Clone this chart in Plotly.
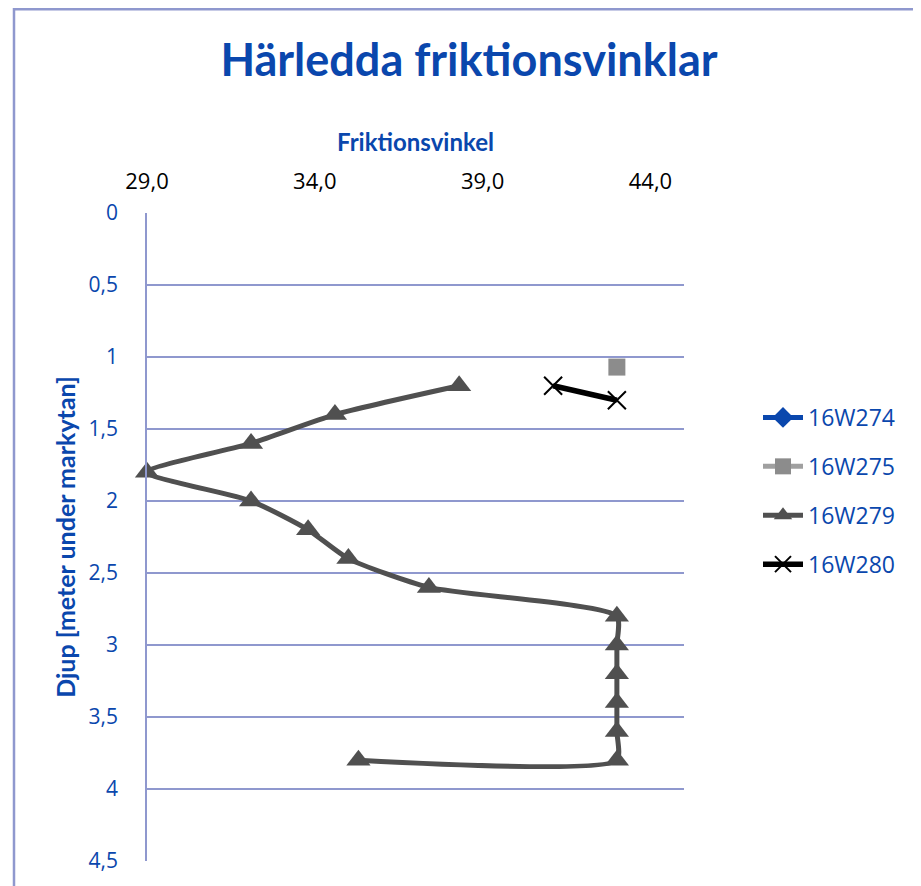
import plotly.graph_objects as go

# Data
depth_279 = [1.2, 1.4, 1.6, 1.8, 2.0, 2.2, 2.4, 2.6, 2.8, 3.0, 3.2, 3.4, 3.6, 3.8, 3.8]
phi_279 = [38.3, 34.6, 32.1, 29.0, 32.1, 33.8, 35.0, 37.4, 43.0, 43.0, 43.0, 43.0, 43.0, 43.0, 35.3]
depth_275 = [1.07]
phi_275 = [43.0]
depth_280 = [1.2, 1.3]
phi_280 = [41.1, 43.0]
x_ticks = [29, 34, 39, 44]
y_ticks = [0, 0.5, 1, 1.5, 2, 2.5, 3, 3.5, 4, 4.5]

BLUE = "#0A47AD"
GRID = "#8F98CE"
FONT = "Lato"

W, H = 913, 878
L, T, PW, PH = 139, 205, 537, 648

fig = go.Figure()
fig.add_trace(go.Scatter(x=[None], y=[None], name="16W274", mode="lines+markers",
                         line=dict(color=BLUE, width=5),
                         marker=dict(symbol="diamond", size=16, color=BLUE),
                         legendgroup="a"))
fig.add_trace(go.Scatter(x=phi_275, y=depth_275, name="16W275", mode="lines+markers",
                         line=dict(color="#A0A0A0", width=5),
                         marker=dict(symbol="square", size=17, color="#8C8C8C"),
                         legendgroup="b"))
fig.add_trace(go.Scatter(x=phi_279, y=depth_279, name="16W279", mode="lines+markers",
                         line=dict(color="#505050", width=5, shape="spline", smoothing=0.6),
                         marker=dict(symbol="triangle-up", size=21, color="#505050"),
                         cliponaxis=False, legendgroup="c"))
fig.add_trace(go.Scatter(x=phi_280, y=depth_280, name="16W280", mode="lines+markers",
                         line=dict(color="#000000", width=5.5),
                         marker=dict(symbol="x-thin", size=18, line=dict(color="#000000", width=2)),
                         legendgroup="d"))

fig.update_layout(
    width=W, height=H,
    margin=dict(l=L, r=W - L - PW, t=T, b=H - T - PH),
    paper_bgcolor="white", plot_bgcolor="white",
    separators=", ",
    title=dict(text="<b>Härledda friktionsvinklar</b>", x=461 / W, xanchor="center",
               y=1 - 52 / H, yanchor="middle",
               font=dict(family=FONT, size=45, color=BLUE)),
    legend=dict(x=(758 - 147) / PW, xanchor="left", y=(861 - 491) / PH, yanchor="middle",
                font=dict(family="Open Sans", size=23, color=BLUE),
                tracegroupgap=16, traceorder="grouped", itemwidth=40,
                bgcolor="rgba(0,0,0,0)"),
    xaxis=dict(side="top", range=[29, 45], tickvals=x_ticks, tickformat=".1f",
               showgrid=False, zeroline=False, showline=False,
               ticks="", ticklabelstandoff=19,
               tickfont=dict(family="Open Sans", size=22, color="black"),
               title=dict(text="<b>Friktionsvinkel</b>", standoff=6,
                          font=dict(family=FONT, size=24, color=BLUE))),
    yaxis=dict(range=[4.5, 0], tickvals=y_ticks,
               showgrid=True, gridcolor=GRID, gridwidth=1.5,
               zeroline=False, showline=True, linecolor=GRID, linewidth=1.5,
               ticks="", ticklabelstandoff=23,
               tickfont=dict(family="Open Sans", size=21, color=BLUE),
               title=dict(text="<b>Djup [meter under markytan]</b>", standoff=6,
                          font=dict(family=FONT, size=25, color=BLUE))),
    shapes=[dict(type="rect", xref="paper", yref="paper",
                 x0=(6 - L) / PW, x1=(940 - L) / PW,
                 y0=(T + PH - 900) / PH, y1=(T + PH - 1.2) / PH,
                 line=dict(color=GRID, width=2.5), fillcolor="rgba(0,0,0,0)", layer="below")],
)

fig.write_html("out.html")
